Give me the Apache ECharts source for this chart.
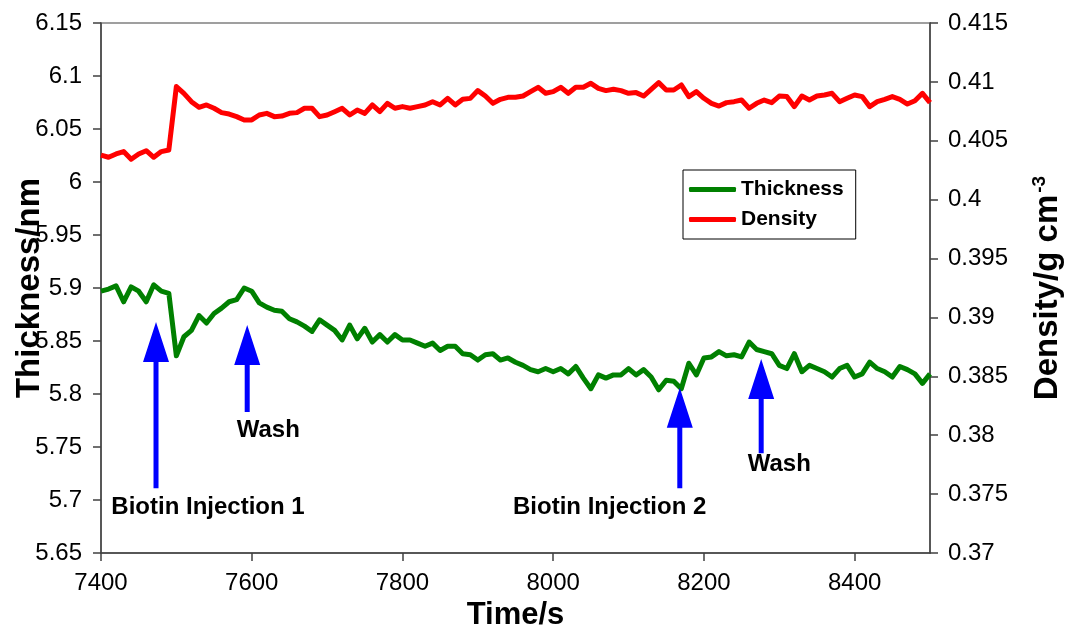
<!DOCTYPE html>
<html><head><meta charset="utf-8">
<script src="https://cdn.jsdelivr.net/npm/echarts@6/dist/echarts.min.js"></script>
<style>html,body{margin:0;padding:0;background:#fff}#c{width:1070px;height:631px}</style>
</head><body><div id="c"></div><script>
// time grid (s), 10 s steps from 7400 to 8500
const startTime = 7400, timeStep = 10;
// Thickness (nm), one value per time step
const thickness = [
5.897,5.899,5.902,5.887,5.901,5.897,5.887,5.903,5.897,5.895,
5.836,5.854,5.860,5.874,5.867,5.876,5.881,5.887,5.889,5.900,
5.897,5.886,5.882,5.879,5.878,5.871,5.868,5.864,5.859,5.870,
5.865,5.860,5.851,5.865,5.852,5.862,5.849,5.856,5.849,5.856,
5.851,5.851,5.848,5.845,5.848,5.841,5.845,5.845,5.838,5.837,
5.832,5.837,5.838,5.832,5.834,5.830,5.827,5.823,5.821,5.824,
5.821,5.824,5.819,5.826,5.815,5.805,5.818,5.815,5.818,5.818,
5.824,5.818,5.823,5.816,5.804,5.813,5.812,5.805,5.829,5.818,
5.834,5.835,5.840,5.836,5.837,5.835,5.849,5.842,5.840,5.838,
5.827,5.824,5.838,5.821,5.827,5.824,5.821,5.816,5.824,5.827,
5.816,5.819,5.830,5.824,5.821,5.816,5.826,5.823,5.819,5.810,
5.819];
// Density (g cm^-3), one value per time step
const density = [
0.40379,0.40360,0.40388,0.40408,0.40343,0.40388,0.40416,0.40360,0.40408,0.40422,
0.40960,0.40903,0.40832,0.40784,0.40804,0.40776,0.40739,0.40727,0.40705,0.40677,
0.40677,0.40719,0.40733,0.40705,0.40710,0.40733,0.40739,0.40776,0.40776,0.40705,
0.40719,0.40747,0.40776,0.40719,0.40761,0.40733,0.40804,0.40747,0.40818,0.40776,
0.40790,0.40776,0.40790,0.40804,0.40832,0.40804,0.40860,0.40804,0.40852,0.40860,
0.40926,0.40880,0.40818,0.40852,0.40869,0.40869,0.40880,0.40917,0.40954,0.40903,
0.40917,0.40954,0.40903,0.40954,0.40954,0.40988,0.40945,0.40926,0.40937,0.40926,
0.40903,0.40909,0.40880,0.40937,0.40994,0.40931,0.40931,0.40974,0.40875,0.40917,
0.40861,0.40818,0.40795,0.40824,0.40832,0.40846,0.40776,0.40818,0.40846,0.40824,
0.40880,0.40875,0.40790,0.40880,0.40846,0.40880,0.40889,0.40903,0.40832,0.40861,
0.40889,0.40875,0.40790,0.40832,0.40852,0.40875,0.40852,0.40812,0.40840,0.40903,
0.40824];
// annotation arrows (data coordinates on time / thickness axes)
const arrowTimes = [7473, 7594, 8168, 8276];
const arrowTipValues = [5.868, 5.865, 5.806, 5.833];
const arrowBaseValues = [5.711, 5.783, 5.711, 5.744];
const labelTexts = ['Biotin Injection 1', 'Wash', 'Biotin Injection 2', 'Wash'];
const labelTimes = [7542, 7622, 8075, 8300];
const labelValues = [5.693, 5.766, 5.693, 5.734];
const seriesNames = ['Thickness', 'Density'];

const FONT = 'Liberation Sans, Arial, sans-serif';
const thickData = thickness.map((v, i) => [startTime + i * timeStep, v]);
const densData = density.map((v, i) => [startTime + i * timeStep, v]);

const chart = echarts.init(document.getElementById('c'), null, {renderer: 'canvas'});
const axisLine = {show: true, lineStyle: {color: '#404040', width: 1.5}};
chart.setOption({
  animation: false,
  backgroundColor: '#fff',
  grid: {left: 101, right: 140, top: 23, bottom: 78, containLabel: false, outerBoundsMode: 'none',
    show: true, borderColor: '#808080', borderWidth: 1.5, backgroundColor: 'transparent'},
  legend: {
    data: seriesNames.map(n => ({name: n, icon: 'roundRect'})), left: 683, top: 170, orient: 'vertical',
    itemWidth: 47, itemHeight: 5, itemGap: 9, padding: [9, 12, 9, 6],
    borderColor: '#000', borderWidth: 1, backgroundColor: '#fff',
    textStyle: {fontSize: 21, fontWeight: 'bold', color: '#000', fontFamily: FONT}
  },
  xAxis: {
    type: 'value', min: 7400, max: 8500, interval: 200,
    name: 'Time/s', nameLocation: 'middle', nameGap: 44,
    nameTextStyle: {fontSize: 31, fontWeight: 'bold', color: '#000', fontFamily: FONT},
    axisLine: axisLine, axisTick: {show: true, length: 8, lineStyle: {color: '#404040', width: 1.5}},
    axisLabel: {fontSize: 24, color: '#000', fontFamily: FONT, margin: 18, showMaxLabel: false,
      formatter: v => String(v)},
    splitLine: {show: false}
  },
  yAxis: [{
    type: 'value', min: 5.65, max: 6.15, interval: 0.05, position: 'left',
    name: 'Thickness/nm', nameLocation: 'middle', nameRotate: 90, nameGap: 55, nameMoveOverlap: false,
    nameTextStyle: {fontSize: 33, fontWeight: 'bold', color: '#000', fontFamily: FONT},
    axisLine: axisLine, axisTick: {show: true, length: 8, lineStyle: {color: '#404040', width: 1.5}},
    axisLabel: {fontSize: 24, color: '#000', fontFamily: FONT, margin: 19},
    splitLine: {show: false}
  }, {
    type: 'value', min: 0.37, max: 0.415, interval: 0.005, position: 'right',
    name: 'Density/g cm{sup|-3}', nameLocation: 'middle', nameRotate: 90, nameGap: 100,
    nameTextStyle: {fontSize: 33, fontWeight: 'bold', color: '#000', fontFamily: FONT,
      rich: {sup: {fontSize: 19, fontWeight: 'bold', color: '#000', fontFamily: FONT, verticalAlign: 'top', padding: [0, 0, 16, 2]}}},
    axisLine: axisLine, axisTick: {show: true, length: 8, lineStyle: {color: '#404040', width: 1.5}},
    axisLabel: {fontSize: 24, color: '#000', fontFamily: FONT, margin: 18},
    splitLine: {show: false}
  }],
  series: [{
    name: seriesNames[0], type: 'line', yAxisIndex: 0, data: thickData,
    showSymbol: false, symbol: 'none', color: '#008000',
    lineStyle: {color: '#008000', width: 5, join: 'round'}
  }, {
    name: seriesNames[1], type: 'line', yAxisIndex: 1, data: densData,
    showSymbol: false, symbol: 'none', color: '#ff0000',
    lineStyle: {color: '#ff0000', width: 5, join: 'round'}
  }]
});

const graphics = [];
const headW = 13, headH = 40, shaftW = 2.5;
arrowTimes.forEach((t, i) => {
  const tip = chart.convertToPixel({xAxisIndex: 0, yAxisIndex: 0}, [t, arrowTipValues[i]]);
  const base = chart.convertToPixel({xAxisIndex: 0, yAxisIndex: 0}, [t, arrowBaseValues[i]]);
  const x = tip[0], y = tip[1], yb = base[1];
  graphics.push({
    type: 'polygon', z: 100,
    shape: {points: [[x, y], [x + headW, y + headH], [x + shaftW, y + headH], [x + shaftW, yb],
      [x - shaftW, yb], [x - shaftW, y + headH], [x - headW, y + headH]]},
    style: {fill: '#0000ff'}
  });
});
labelTexts.forEach((txt, i) => {
  const p = chart.convertToPixel({xAxisIndex: 0, yAxisIndex: 0}, [labelTimes[i], labelValues[i]]);
  graphics.push({
    type: 'text', z: 100, x: p[0], y: p[1],
    style: {text: txt, fill: '#000', font: 'bold 24px ' + FONT, textAlign: 'center', textVerticalAlign: 'middle'}
  });
});
chart.setOption({graphic: graphics});
</script></body></html>
